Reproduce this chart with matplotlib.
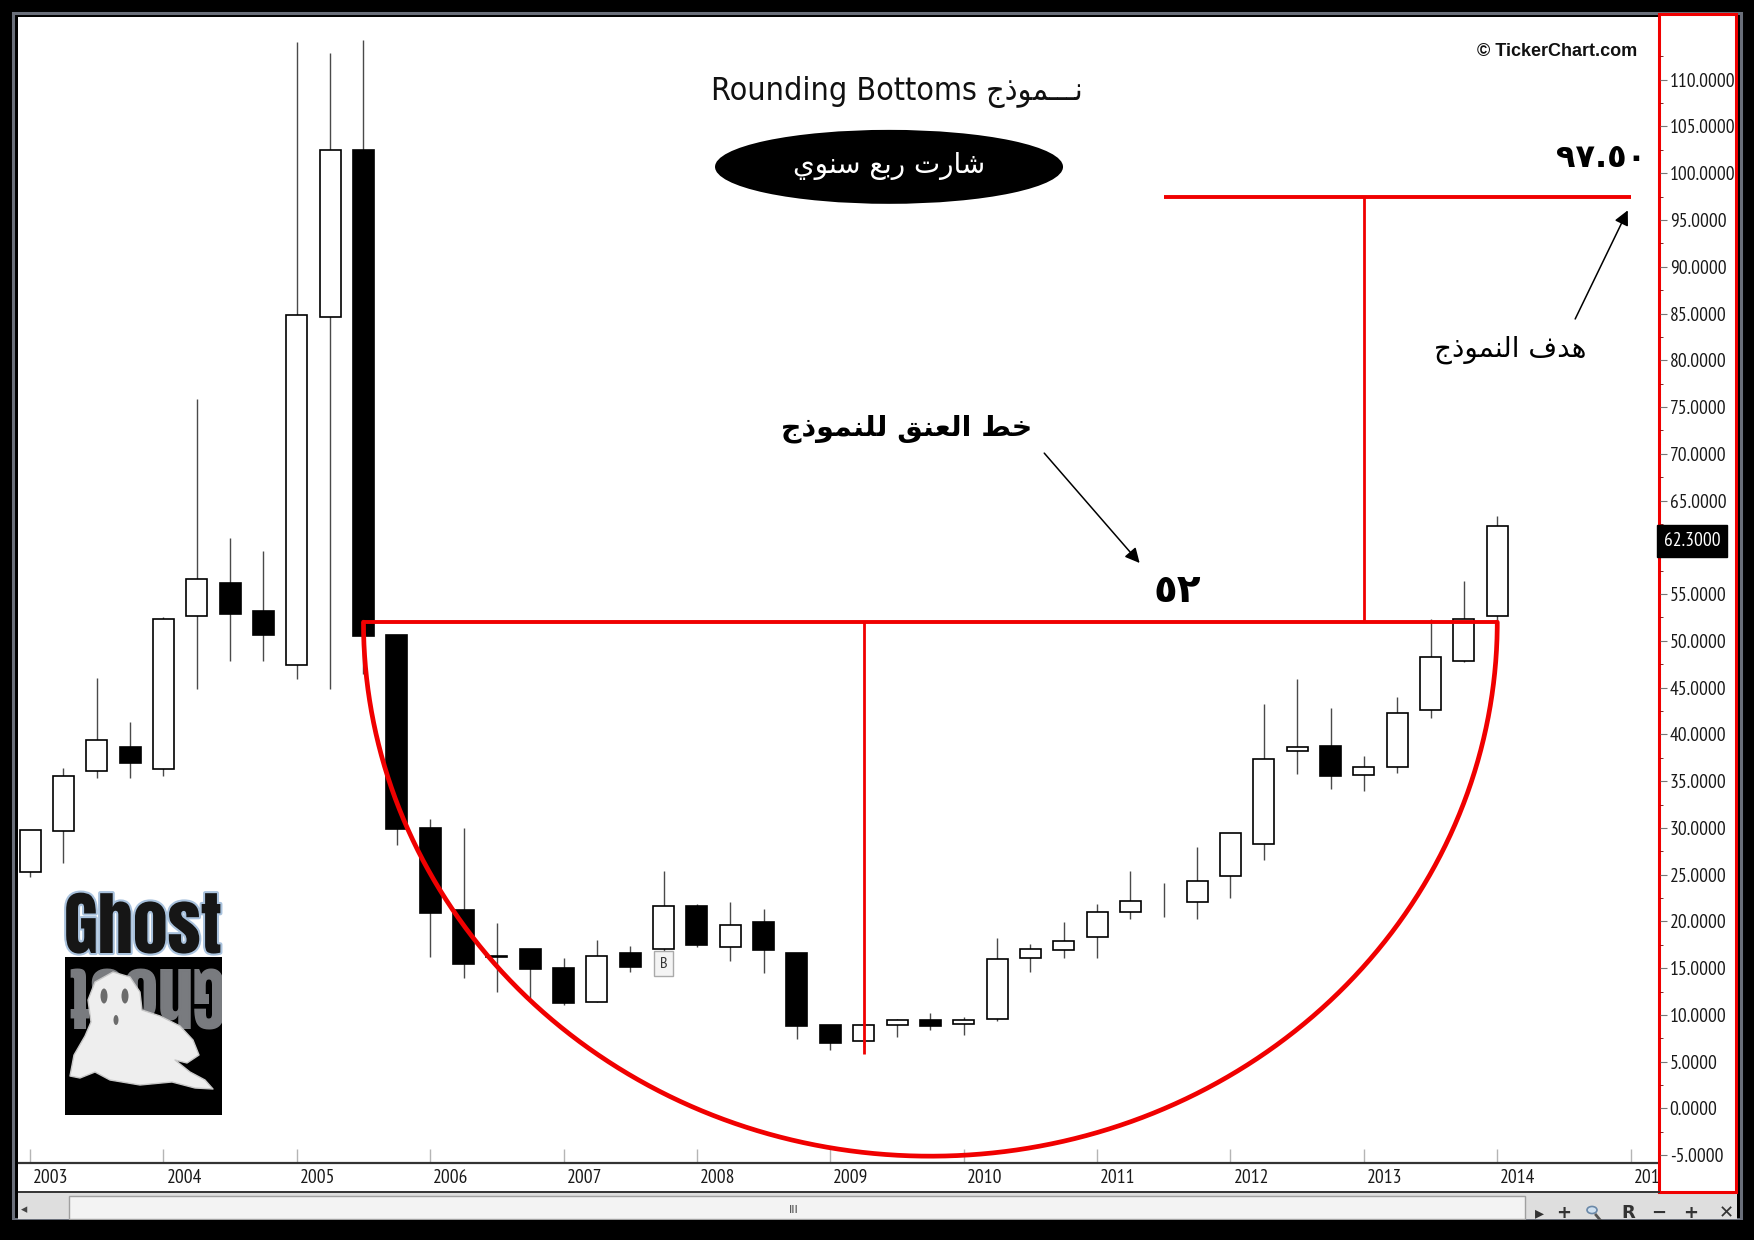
import numpy as np
import matplotlib
matplotlib.use('Agg')
import matplotlib.pyplot as plt
from matplotlib.patches import Rectangle, Ellipse, Polygon, Circle
from matplotlib.lines import Line2D
from matplotlib.transforms import ScaledTranslation
import matplotlib.patheffects as pe

# quarterly candles, Q1 2003 .. Q1 2014
opens  = [25.3, 29.7, 36.1, 38.7, 36.3, 52.7, 56.2, 53.2, 47.4, 84.6, 102.5, 50.6,
          30.0, 21.2, 16.35, 17.0, 15.0, 11.4, 16.6, 17.0, 21.7, 17.3, 19.9, 16.6,
          8.9, 7.2, 8.9, 9.5, 9.0, 9.6, 16.1, 16.95, 18.3, 21.0, 22.0, 22.1,
          24.9, 28.25, 38.2, 38.8, 35.7, 36.55, 42.6, 47.9, 52.7]
highs  = [29.8, 36.4, 46.0, 41.3, 52.5, 75.9, 61.0, 59.6, 114.0, 112.9, 114.3, 50.6,
          30.9, 30.0, 19.8, 17.0, 16.1, 18.0, 17.4, 25.4, 21.9, 22.05, 21.3, 16.6,
          8.9, 9.0, 9.6, 10.2, 9.8, 18.2, 17.6, 19.9, 21.9, 25.4, 24.1, 28.0,
          29.5, 43.3, 45.9, 42.8, 37.7, 44.0, 52.35, 56.4, 63.3]
lows   = [24.8, 26.2, 35.3, 35.3, 35.5, 44.9, 47.9, 47.9, 45.9, 44.8, 46.5, 28.2,
          16.2, 14.0, 12.5, 11.8, 11.1, 11.4, 14.6, 16.8, 17.3, 15.8, 14.5, 7.4,
          6.3, 6.6, 7.6, 8.4, 7.9, 9.3, 14.6, 16.1, 16.1, 20.3, 20.5, 20.3,
          22.5, 26.6, 35.8, 34.2, 33.9, 35.85, 41.8, 47.7, 52.1]
closes = [29.8, 35.6, 39.4, 36.9, 52.3, 56.6, 52.9, 50.6, 84.8, 102.5, 50.5, 29.9,
          20.9, 15.4, 16.2, 14.9, 11.25, 16.3, 15.1, 21.6, 17.5, 19.6, 16.9, 8.8,
          7.0, 8.9, 9.5, 8.8, 9.45, 16.0, 17.1, 17.9, 21.0, 22.2, 22.0, 24.3,
          29.5, 37.35, 38.6, 35.5, 36.55, 42.3, 48.3, 52.3, 62.3]
years = list(range(2003, 2016))
first_year = 2003
marked_quarter = 19          # the "B" marker

# pattern drawing
neck_value = 52.0
target_value = 97.5
depth_low = 5.8
arc_bottom = -5.1
arc_start, arc_end = 10, 44
depth_quarter = 25
rise_quarter = 40
target_start, target_end = 34, 48

title_latin = 'Rounding Bottoms'
title_ar = 'نـــموذج'
period_ar = 'شارت ربع سنوي'
neck_ar = 'خط العنق للنموذج'
target_ar = 'هدف النموذج'
neck_label = '٥٢'
target_label = '٩٧.٥٠'

# --- small arabic shaper (presentation forms, visual order) ---
FORMS = {
    'ا': ('\ufe8d', '\ufe8e', None, None),
    'ب': ('\ufe8f', '\ufe90', '\ufe91', '\ufe92'),
    'ت': ('\ufe95', '\ufe96', '\ufe97', '\ufe98'),
    'ج': ('\ufe9d', '\ufe9e', '\ufe9f', '\ufea0'),
    'خ': ('\ufea5', '\ufea6', '\ufea7', '\ufea8'),
    'د': ('\ufea9', '\ufeaa', None, None),
    'ذ': ('\ufeab', '\ufeac', None, None),
    'ر': ('\ufead', '\ufeae', None, None),
    'س': ('\ufeb1', '\ufeb2', '\ufeb3', '\ufeb4'),
    'ش': ('\ufeb5', '\ufeb6', '\ufeb7', '\ufeb8'),
    'ط': ('\ufec1', '\ufec2', '\ufec3', '\ufec4'),
    'ع': ('\ufec9', '\ufeca', '\ufecb', '\ufecc'),
    'ف': ('\ufed1', '\ufed2', '\ufed3', '\ufed4'),
    'ق': ('\ufed5', '\ufed6', '\ufed7', '\ufed8'),
    'ل': ('\ufedd', '\ufede', '\ufedf', '\ufee0'),
    'م': ('\ufee1', '\ufee2', '\ufee3', '\ufee4'),
    'ن': ('\ufee5', '\ufee6', '\ufee7', '\ufee8'),
    'ه': ('\ufee9', '\ufeea', '\ufeeb', '\ufeec'),
    'و': ('\ufeed', '\ufeee', None, None),
    'ي': ('\ufef1', '\ufef2', '\ufef3', '\ufef4'),
}
TATWEEL = '\u0640'


def ar(s):
    def links_next(ch):
        return ch == TATWEEL or (ch in FORMS and FORMS[ch][2] is not None)

    def joins(ch):
        return ch == TATWEEL or ch in FORMS
    out = []
    for i, ch in enumerate(s):
        if ch not in FORMS:
            out.append(ch)
            continue
        prev = s[i - 1] if i > 0 else ' '
        nxt = s[i + 1] if i < len(s) - 1 else ' '
        jp = links_next(prev)
        jn = links_next(ch) and joins(nxt)
        iso, fin, ini, med = FORMS[ch]
        out.append(med if (jp and jn) else fin if jp else ini if jn else iso)
    return ''.join(out[::-1])


W, H = 1754, 1240
def fx(x): return x / W
def fy(y): return 1 - y / H

NARROW = ['PT Sans Narrow', 'Roboto Condensed', 'DejaVu Sans']
ARAB = ['DejaVu Sans']
RED = '#f00000'

fig = plt.figure(figsize=(W / 100, H / 100), dpi=100, facecolor='black')

# window frame
fig.add_artist(Rectangle((fx(13), fy(1219)), fx(1741) - fx(13), fy(13) - fy(1219),
                         transform=fig.transFigure, fc='none', ec='#6a6f7a', lw=2.2, zorder=-3))
fig.add_artist(Rectangle((fx(18), fy(1193)), fx(1737) - fx(18), fy(17) - fy(1193),
                         transform=fig.transFigure, fc='white', ec='none', zorder=-2))

# main chart
ax = fig.add_axes([fx(19), fy(1163), fx(1659) - fx(19), fy(18) - fy(1163)])
ax.set_facecolor('white')
x = np.arange(len(opens))
o = np.array(opens); c = np.array(closes)
ax.vlines(x, lows, highs, color='#4a4a4a', lw=1.0, zorder=2)
up = c > o
down = c < o
ax.bar(x[up], (c - o)[up], bottom=o[up], width=0.63, color='white',
       edgecolor='black', lw=1.2, zorder=3)
ax.bar(x[down], (o - c)[down], bottom=c[down], width=0.63, color='black',
       edgecolor='black', lw=1.2, zorder=3)

ax.set_xlim(-0.33, 48.85)
ax.set_ylim(-5.83, 116.6)

# rounding bottom drawing
t = np.linspace(np.pi, 2 * np.pi, 300)
cx = (arc_start + arc_end) / 2
ax.plot(cx + (arc_end - arc_start) / 2 * np.cos(t),
        neck_value + (neck_value - arc_bottom) * np.sin(t),
        color=RED, lw=3.4, solid_capstyle='round', zorder=4)
ax.hlines(neck_value, arc_start, arc_end, color=RED, lw=2.8, zorder=4)
ax.vlines(depth_quarter, depth_low, neck_value, color=RED, lw=2.0, zorder=4)
ax.vlines(rise_quarter, neck_value, target_value, color=RED, lw=2.0, zorder=4)
ax.hlines(target_value, target_start, target_end, color=RED, lw=2.8, zorder=4)

ax.annotate('', xy=(33.33, 58.1), xytext=(30.36, 70.3),
            arrowprops=dict(arrowstyle='-|>', color='black', lw=1.1, mutation_scale=22))
ax.annotate('', xy=(47.95, 96.3), xytext=(46.3, 84.15),
            arrowprops=dict(arrowstyle='-|>', color='black', lw=1.1, mutation_scale=22))

ax.text(26.3, 72.7, ar(neck_ar), family=ARAB, fontsize=20.5, fontweight='bold',
        ha='center', va='center')
ax.text(34.4, 55.3, neck_label, family=ARAB, fontsize=28, fontweight='bold',
        ha='center', va='center')
ax.text(47.1, 101.6, target_label, family=ARAB, fontsize=23, fontweight='bold',
        ha='center', va='center')
ax.text(44.4, 81.1, ar(target_ar), family=ARAB, fontsize=20, ha='center', va='center')
ax.text(marked_quarter, 15.5, 'B', family=NARROW, fontsize=11.5, ha='center', va='center',
        color='#333', zorder=5,
        bbox=dict(boxstyle='square,pad=0.35', fc='#f4f4f4', ec='#aaaaaa', lw=1))

# title + period badge
ax.text(0.535, 0.9354, title_latin + ' ' + ar(title_ar), transform=ax.transAxes,
        family=['DejaVu Sans'], fontstretch='condensed', fontsize=23,
        ha='center', va='center', color='#111')
ax.add_patch(Ellipse((0.5305, 0.870), 0.2122, 0.0646, transform=ax.transAxes,
                     fc='black', ec='none', zorder=5))
ax.text(0.5305, 0.871, ar(period_ar), transform=ax.transAxes, family=ARAB,
        fontsize=20, color='white', ha='center', va='center', zorder=6)
ax.text(0.987, 0.971, '© TickerChart.com', transform=ax.transAxes,
        family=['Liberation Sans', 'DejaVu Sans'], fontweight='bold', fontsize=13,
        ha='right', va='center', color='#111')

# x axis: years
for s in ['top', 'left', 'right']:
    ax.spines[s].set_visible(False)
ax.spines['bottom'].set_color('#333333')
ax.spines['bottom'].set_linewidth(1.6)
ax.set_yticks([])
ax.set_xticks([(yr - first_year) * 4 for yr in years])
ax.set_xticklabels([str(yr) for yr in years], family=NARROW, fontsize=14, color='#1a1a1a')
ax.tick_params(axis='x', direction='in', length=10, width=1, color='#b5b5b5', pad=4)
shift = ScaledTranslation(3 / 100, 0, fig.dpi_scale_trans)
for lab in ax.get_xticklabels():
    lab.set_ha('left')
    lab.set_transform(lab.get_transform() + shift)

fig.add_artist(Line2D([fx(19), fx(1659)], [fy(1192), fy(1192)], transform=fig.transFigure,
                      color='#333333', lw=1.4))

# right price panel
fig.add_artist(Rectangle((fx(1659), fy(1192)), fx(1736) - fx(1659), fy(14) - fy(1192),
                         transform=fig.transFigure, fc='white', ec=RED, lw=2.2, zorder=1))
pax = fig.add_axes([fx(1659), fy(1163), 1 / W, fy(18) - fy(1163)], zorder=3)
pax.patch.set_alpha(0)
for s in pax.spines.values():
    s.set_visible(False)
pax.set_ylim(ax.get_ylim())
pax.set_xticks([])
pax.yaxis.tick_right()
ticks = np.arange(-5, 111, 5)
pax.set_yticks(ticks)
# the tick label just under the last-price box is hidden by it in the original
pax.set_yticklabels(['' if 0 <= closes[-1] - v < 3 else '%.4f' % v for v in ticks],
                    family=NARROW, fontsize=14, color='#1a1a1a')
pax.set_yticks(np.arange(-2.5, 115, 5), minor=True)
pax.tick_params(axis='y', which='major', direction='out', length=5, color='#777', pad=2)
pax.tick_params(axis='y', which='minor', direction='out', length=2, color='#700000')
last = pax.text(1, closes[-1], '%.4f' % closes[-1], transform=pax.get_yaxis_transform(),
                family=NARROW, fontsize=14, color='white', ha='left', va='top', zorder=6,
                bbox=dict(boxstyle='square,pad=0.35', fc='black', ec='black'))
last.set_transform(last.get_transform() + ScaledTranslation(4 / 100, -6 / 100, fig.dpi_scale_trans))

# scroll bar strip
fig.add_artist(Rectangle((fx(18), fy(1219)), fx(1737) - fx(18), fy(1193) - fy(1219),
                         transform=fig.transFigure, fc='#dedede', ec='none', zorder=-1))
fig.add_artist(Rectangle((fx(69), fy(1219)), fx(1525) - fx(69), fy(1196) - fy(1219),
                         transform=fig.transFigure, fc='#f3f3f3', ec='#a0a0a0', lw=1, zorder=-1))
fig.text(fx(794), fy(1210), 'III', fontsize=8, color='#444', ha='center', va='center')
fig.text(fx(24), fy(1210), '◂', fontsize=9, color='#444', ha='center', va='center')
for px_, sym in zip([1539, 1564, 1628, 1659, 1691, 1726],
                    ['▸', '+', 'R', '−', '+', '✕']):
    fig.text(fx(px_), fy(1213), sym, fontsize=13, fontweight='bold', color='#333',
             ha='center', va='center')
# magnifier icon
fig.add_artist(Circle((fx(1592), fy(1210)), 5 / W, transform=fig.transFigure,
                      fc='#cfe0f0', ec='#6a88a8', lw=1.2))
fig.add_artist(Line2D([fx(1596), fx(1601)], [fy(1215), fy(1221)], transform=fig.transFigure,
                      color='#555', lw=2))
fig.add_artist(Rectangle((0, 0), 1, fy(1220), transform=fig.transFigure,
                         fc='black', ec='none', zorder=2))

# ghost logo
fig.add_artist(Rectangle((fx(65), fy(1115)), fx(222) - fx(65), fy(957) - fy(1115),
                         transform=fig.transFigure, fc='black', ec='none', zorder=1.4))
renderer = fig.canvas.get_renderer()
logo = fig.text(fx(64), fy(953), 'Ghost', family=['Anton', 'DejaVu Sans'], fontsize=60,
                color='#161616', ha='left', va='baseline', zorder=1.5,
                path_effects=[pe.withStroke(linewidth=3, foreground='#a9c2dd')])
bb = logo.get_window_extent(renderer)
logo.set_fontsize(60 * 158 / bb.width)
refl = fig.text(fx(143), fy(958), 'Ghost', family=['Anton', 'DejaVu Sans'],
                fontsize=logo.get_fontsize(), rotation=180, color='#7a7c80',
                ha='center', va='top', zorder=1.5)
refl.set_clip_path(Rectangle((fx(65), fy(1115)), fx(222) - fx(65), fy(957) - fy(1115),
                             transform=fig.transFigure))
ghost = [(113, 972), (130, 977), (140, 992), (142, 1010), (160, 1016), (180, 1026), (193, 1040),
         (199, 1055), (187, 1063), (175, 1060), (190, 1072), (205, 1080), (213, 1089), (195, 1088),
         (172, 1082), (140, 1085), (110, 1080), (95, 1072), (80, 1078), (70, 1076), (74, 1055),
         (85, 1036), (91, 1022), (88, 1000), (95, 982)]
fig.add_artist(Polygon([(fx(a), fy(b)) for a, b in ghost], closed=True, transform=fig.transFigure,
                       fc='#eeeeee', ec='#c8c8c8', lw=1, joinstyle='round', zorder=1.6))
for ex, ey, ew, eh in [(104, 996, 7, 15), (125, 996, 7, 15), (116, 1020, 5, 10)]:
    fig.add_artist(Ellipse((fx(ex), fy(ey)), ew / W, eh / H, transform=fig.transFigure,
                           fc='#6b6b6b', ec='none', zorder=1.7))

fig.savefig('out.png', dpi=100, facecolor=fig.get_facecolor())
